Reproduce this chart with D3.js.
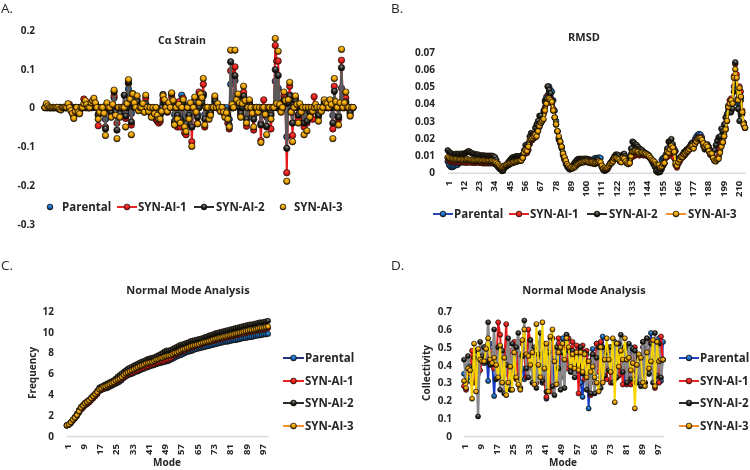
<!DOCTYPE html>
<html>
<head>
<meta charset="utf-8">
<script src="https://cdnjs.cloudflare.com/ajax/libs/d3/7.8.5/d3.min.js"></script>
<style>
  html, body { margin: 0; background: #fff; }
  svg { display: block; font-family: "Open Sans", sans-serif; filter: blur(0.4px); }
  text { fill: #262626; }
</style>
</head>
<body>
<script>
var seriesNames = ["Parental", "SYN-AI-1", "SYN-AI-2", "SYN-AI-3"];

// A. C-alpha strain, residues 1-215
var strainParental = [
0,0,0,0,0,0,0,0,0,0,0,0,0,0,0,0,0,0,0,0,
-.01,0,0,0,0,0,0,0,0,0,0,0,0,0,.008,.01,0,-.017,0,0,
0,0,-.03,0,0,0,-.008,0,.025,-.008,-.02,0,-.01,0,0,0,-.012,0,.048,.008,
-.015,.018,.012,0,.012,0,0,0,0,0,.008,0,0,0,-.012,0,0,0,-.01,-.012,
-.012,0,.012,.008,0,0,0,0,.01,0,-.018,0,-.012,0,-.014,.032,.008,-.025,-.038,0,
-.012,0,-.05,0,.014,0,-.018,0,.026,.03,.03,-.018,0,0,-.014,-.008,0,0,.012,0,
0,0,0,0,0,-.01,0,-.012,-.03,.06,0,0,.07,.018,.012,0,-.01,0,.028,.008,
-.025,0,.008,0,0,-.02,0,0,0,0,-.04,0,0,-.008,-.025,0,0,-.015,0,0,
.068,0,.05,0,0,.012,.018,.022,-.075,.014,.033,0,-.04,0,.015,0,-.018,0,0,0,
-.03,0,-.03,0,-.008,0,0,0,0,0,-.014,0,0,0,0,0,0,0,.008,0,
-.02,.018,0,0,-.022,0,.05,0,0,.012,0,0,-.008,0,0];
var strainAI1 = [
0,.006,0,0,0,0,0,0,0,0,0,0,0,0,0,0,.006,.008,0,-.012,
-.024,-.008,0,-.01,-.014,0,0,.022,.014,0,0,0,.008,.012,.016,.008,0,-.047,0,0,
0,-.01,-.05,.008,0,0,-.018,0,.03,-.014,-.04,0,-.02,0,0,0,-.028,0,.062,.015,
-.045,.025,.008,0,.02,0,0,0,0,-.01,.024,0,0,0,-.02,0,-.012,-.03,-.035,-.04,
-.036,-.012,.02,.012,0,-.012,.008,0,.028,.015,-.04,0,-.05,.015,-.05,.01,.024,-.065,-.07,0,
-.02,.008,-.088,0,.018,-.01,-.04,.04,.025,.018,.06,-.05,0,0,-.022,-.014,0,0,.024,0,
0,0,-.008,0,-.01,-.02,-.012,-.04,-.055,.095,0,0,.105,.014,.028,.008,-.02,0,.04,.014,
-.048,0,.014,0,-.012,-.058,0,0,-.01,0,-.085,0,.02,-.014,-.05,0,0,-.055,0,0,
.16,.12,.12,0,-.01,0,.03,.012,-.168,.014,.055,-.01,-.072,0,.022,0,-.03,.008,-.01,0,
-.05,0,-.04,0,-.018,0,-.03,.028,0,0,-.025,0,-.008,0,.014,.009,0,0,.014,0,
-.055,.055,.01,0,-.03,.009,.122,0,.008,.025,0,0,-.018,0,0];
var strainAI2 = [
0,0,0,0,0,0,0,0,0,0,0,0,0,0,0,0,.005,0,0,-.008,
-.018,0,0,0,-.01,0,0,0,.01,0,0,0,0,.008,.012,0,0,-.02,0,0,
0,-.01,-.055,0,0,0,-.012,0,.04,-.012,-.058,0,-.016,0,0,.032,-.022,0,.065,.012,
-.037,.036,0,0,.016,0,0,0,0,-.01,.01,0,0,0,-.02,0,-.01,0,-.014,-.02,
-.02,0,.034,.012,0,0,0,0,.036,.01,-.035,0,-.02,0,-.03,0,.012,-.04,-.042,0,
-.02,0,-.05,0,.014,0,-.025,0,.025,.012,.035,-.03,0,0,-.018,-.012,0,0,.018,0,
0,0,0,0,-.008,-.015,-.008,-.02,-.045,.118,0,0,.082,.012,.025,0,-.015,0,.03,.01,
-.03,0,.012,0,-.008,-.03,0,0,-.008,0,-.045,0,0,-.01,-.048,0,0,-.02,0,0,
.098,0,.083,0,-.008,0,.02,.01,-.105,.012,.03,-.008,-.04,0,.018,0,-.02,0,-.008,0,
-.04,0,-.035,0,-.012,0,0,0,0,0,-.02,0,0,0,.01,.008,0,0,.012,0,
-.04,.042,.008,0,-.025,0,.103,0,0,.015,0,0,-.012,0,0];
var strainAI3 = [
0,.01,.004,0,0,0,0,0,0,0,-.004,-.006,0,0,0,0,.01,0,-.008,-.015,
-.028,-.01,0,-.012,-.016,0,0,.01,.018,.008,0,0,.012,.018,.024,.012,0,-.03,-.012,0,
0,-.015,-.072,.012,0,0,-.025,.008,.045,-.02,-.08,0,-.025,0,0,0,-.05,.01,.072,.022,
-.07,.035,.012,0,.03,-.008,0,0,.01,-.012,.032,0,-.01,0,-.025,0,-.016,0,-.02,-.03,
-.03,-.01,.03,.02,0,-.01,.012,0,.038,.018,-.045,0,-.03,.008,-.04,0,.02,-.05,-.062,0,
-.03,.012,-.1,0,.027,-.012,-.042,.012,.035,.025,.075,-.045,0,0,-.03,-.02,0,0,.03,0,
.01,0,-.01,0,-.012,-.025,-.014,-.03,-.05,.148,.008,0,.148,.02,.035,.012,-.025,.01,.055,.018,
-.04,0,.02,0,-.015,-.05,0,0,-.012,0,-.09,0,0,-.018,-.07,0,0,-.03,0,0,
.178,.01,.145,.008,-.012,0,.04,.018,-.19,.02,.065,-.012,-.088,0,.03,.008,-.04,.01,-.012,0,
-.07,0,-.06,0,-.025,0,-.01,0,.008,0,-.035,0,-.01,0,.02,.012,.01,0,.02,.008,
-.08,.075,.015,0,-.045,.012,.15,0,.012,.04,0,0,-.022,0,0];
var strainTicks = [-0.3, -0.2, -0.1, 0, 0.1, 0.2];

// B. RMSD, residues 1-215
var rmsdParental = [
.0065,.0045,.0035,.0032,.0035,.004,.005,.0045,.0055,.0065,
.007,.007,.0072,.0072,.0075,.0072,.007,.0065,.0065,.0065,
.0065,.0065,.0065,.0062,.006,.0055,.0055,.0055,.0055,.0055,
.0055,.0055,.0055,.0055,.005,.0045,.0035,.0025,.002,.0018,
.002,.003,.0035,.004,.0045,.005,.0055,.006,.006,.0065,
.007,.0075,.0075,.008,.0085,.011,.0115,.0115,.013,.0165,
.0185,.019,.02,.0205,.0225,.0245,.0265,.0285,.03,.034,
.042,.044,.05,.05,.048,.047,.042,.036,.03,.024,
.019,.017,.014,.01,.0075,.005,.0035,.0025,.002,.0025,
.0035,.0045,.0055,.006,.0065,.007,.0072,.0075,.0078,.008,
.008,.0078,.0075,.0075,.0075,.0075,.0085,.0085,.0085,.0088,
.0085,.004,.0025,.002,.002,.0025,.004,.0055,.0065,.0075,
.0085,.0095,.0095,.0095,.0085,.0075,.0095,.0095,.0085,.0075,
.0065,.007,.011,.0135,.0135,.0135,.0135,.0135,.0125,.0125,
.0125,.012,.0115,.011,.0105,.01,.0085,.0075,.0065,.0055,
.0045,.0035,.0035,.0035,.0075,.0085,.0085,.0105,.0125,.012,
.015,.017,.015,.0115,.007,.0045,.0065,.0075,.0085,.0095,
.0105,.0115,.0125,.0135,.0145,.016,.0175,.0165,.0195,.021,
.022,.0225,.022,.0205,.0175,.0145,.0155,.0155,.0125,.0105,
.0105,.0085,.0075,.007,.008,.009,.0125,.0155,.0175,.021,
.025,.03,.036,.039,.041,.04,.05,.056,.05,.04,
.046,.044,.035,.028,.026];
var rmsdAI1 = [
.0085,.007,.0065,.0065,.0065,.006,.0062,.006,.006,.006,
.006,.006,.006,.0058,.006,.006,.006,.006,.0058,.0058,
.0058,.006,.006,.0058,.0058,.0058,.0058,.0058,.0058,.0058,
.006,.006,.006,.0058,.0055,.005,.0045,.004,.003,.0028,
.003,.0038,.0045,.005,.005,.0055,.006,.0062,.0065,.0068,
.007,.0072,.007,.0072,.0085,.0105,.012,.0115,.0135,.017,
.0185,.0195,.02,.021,.023,.025,.028,.03,.03,.034,
.038,.042,.045,.044,.043,.04,.037,.032,.028,.024,
.02,.018,.015,.011,.008,.0065,.0045,.003,.002,.0025,
.003,.0035,.0045,.005,.0055,.006,.006,.0062,.0065,.0065,
.0062,.006,.0058,.0055,.0058,.0052,.005,.0055,.006,.0055,
.005,.003,.002,.002,.002,.003,.004,.0055,.0065,.007,
.008,.0085,.0085,.008,.0065,.0065,.009,.0085,.007,.0055,
.005,.0058,.0085,.0105,.0095,.0105,.0105,.011,.01,.0105,
.0105,.01,.0105,.01,.0095,.009,.008,.0072,.0065,.0055,
.0045,.0035,.0035,.0025,.003,.0045,.0055,.0085,.0105,.0095,
.011,.013,.012,.0085,.0045,.003,.005,.0065,.008,.009,
.0095,.0105,.0115,.0125,.0135,.015,.0155,.0145,.017,.019,
.02,.0205,.0205,.0195,.017,.0145,.0155,.015,.0125,.0105,
.0105,.0085,.007,.007,.0085,.01,.014,.0165,.018,.022,
.026,.03,.039,.042,.043,.041,.056,.063,.057,.043,
.05,.047,.036,.029,.026];
var rmsdAI2 = [
.013,.012,.0115,.011,.0105,.0105,.011,.0105,.011,.0105,
.011,.011,.011,.0115,.012,.0125,.012,.0115,.011,.011,
.0105,.0105,.0105,.01,.01,.01,.01,.0098,.0098,.0098,
.0098,.0098,.0098,.0095,.009,.0075,.0055,.0035,.002,.001,
.0012,.003,.004,.0055,.0065,.0075,.0085,.009,.009,.0095,
.0095,.0095,.0095,.0095,.0105,.013,.016,.015,.017,.021,
.023,.0225,.022,.026,.028,.03,.033,.033,.031,.036,
.041,.042,.05,.048,.046,.042,.036,.032,.028,.024,
.02,.018,.015,.0115,.009,.0065,.0045,.003,.002,.0025,
.004,.0055,.0065,.0075,.008,.008,.008,.008,.008,.008,
.008,.0075,.007,.007,.007,.0065,.006,.0065,.0075,.0065,
.0055,.0035,.0015,.001,.0015,.002,.0035,.005,.0065,.008,
.0095,.0105,.0105,.01,.009,.008,.0105,.011,.0095,.0085,
.0075,.0085,.014,.018,.0175,.0165,.016,.015,.014,.0135,
.013,.012,.0115,.011,.0105,.0095,.0085,.0065,.005,.0035,
.001,.0002,.0002,.0005,.002,.004,.0055,.0095,.014,.018,
.018,.0195,.0165,.014,.0125,.008,.0075,.0085,.0095,.0105,
.012,.0125,.0135,.014,.015,.0165,.017,.0155,.0175,.0185,
.02,.02,.0195,.018,.0155,.0135,.0155,.0165,.015,.013,
.0125,.0125,.013,.016,.0185,.0205,.021,.0255,.024,.028,
.032,.034,.038,.039,.035,.037,.047,.064,.048,.037,
.03,.042,.034,.029,.026];
var rmsdAI3 = [
.009,.0085,.008,.0078,.0078,.0075,.0078,.0075,.0075,.0075,
.0075,.0072,.0075,.0075,.0078,.0075,.0075,.0072,.0072,.007,
.007,.007,.0072,.007,.0068,.007,.007,.0068,.0068,.0068,
.0068,.0068,.0068,.0065,.0062,.0058,.005,.0042,.0035,.003,
.0035,.0042,.0045,.005,.0052,.0055,.0055,.006,.006,.0062,
.0065,.0068,.0068,.007,.0085,.0115,.013,.0125,.015,.019,
.0195,.02,.021,.022,.021,.024,.027,.029,.03,.031,
.036,.04,.043,.043,.042,.041,.036,.032,.028,.024,
.021,.018,.015,.011,.009,.007,.005,.004,.003,.003,
.0025,.003,.0035,.0045,.005,.0055,.0058,.006,.006,.0065,
.0065,.0062,.006,.0058,.006,.0055,.0055,.0058,.006,.0065,
.006,.004,.0025,.003,.0025,.003,.004,.005,.0055,.0065,
.008,.0085,.008,.0075,.0065,.006,.0085,.008,.0065,.0055,
.005,.0055,.0095,.012,.012,.0125,.012,.012,.011,.0115,
.0115,.011,.011,.0105,.01,.0095,.0085,.0075,.007,.0062,
.005,.0045,.0045,.003,.0035,.005,.0055,.009,.012,.0115,
.0135,.0155,.0145,.012,.0055,.004,.006,.0075,.009,.009,
.0105,.011,.012,.0125,.0135,.015,.0155,.014,.0165,.018,
.0195,.02,.02,.019,.017,.015,.016,.015,.0125,.011,
.011,.0085,.007,.0065,.0075,.008,.0115,.015,.0175,.021,
.025,.03,.038,.04,.042,.04,.055,.06,.055,.042,
.049,.044,.035,.028,.026];
var rmsdTicks = [0, 0.01, 0.02, 0.03, 0.04, 0.05, 0.06, 0.07];
var residueLabels = [1, 12, 23, 34, 45, 56, 67, 78, 89, 100, 111, 122, 133, 144, 155, 166, 177, 188, 199, 210];

// C. Normal mode frequency, modes 1-100
var freqParental = [
1,1.05,1.2,1.45,1.65,1.9,2.2,2.5,2.7,2.9,
3.05,3.2,3.4,3.6,3.8,4,4.3,4.4,4.5,4.55,
4.6,4.7,4.8,4.9,5,5.1,5.2,5.35,5.55,5.7,
5.8,5.9,5.95,6.05,6.15,6.2,6.3,6.4,6.45,6.55,
6.6,6.7,6.75,6.8,6.9,6.95,7,7.05,7.1,7.15,
7.2,7.3,7.4,7.5,7.6,7.7,7.75,7.85,7.95,8.05,
8.1,8.15,8.2,8.3,8.35,8.4,8.45,8.5,8.55,8.6,
8.65,8.7,8.75,8.8,8.85,8.9,8.95,9,9.05,9.05,
9.1,9.15,9.2,9.2,9.25,9.3,9.35,9.4,9.4,9.45,
9.5,9.5,9.55,9.6,9.65,9.65,9.7,9.75,9.75,9.8];
var freqAI1 = [
1,1.1,1.25,1.5,1.7,1.95,2.25,2.55,2.75,2.95,
3.1,3.25,3.45,3.65,3.85,4.05,4.35,4.45,4.55,4.65,
4.75,4.85,4.95,5.05,5.15,5.25,5.35,5.5,5.65,5.8,
5.9,6,6.05,6.15,6.25,6.3,6.4,6.5,6.55,6.65,
6.7,6.8,6.85,6.9,7,7.05,7.1,7.15,7.2,7.3,
7.35,7.45,7.6,7.75,7.85,7.95,8.05,8.15,8.2,8.3,
8.35,8.45,8.5,8.6,8.65,8.7,8.75,8.85,8.9,8.95,
9,9.05,9.1,9.15,9.2,9.25,9.3,9.35,9.4,9.45,
9.5,9.55,9.6,9.65,9.7,9.75,9.8,9.85,9.9,9.95,
10,10.05,10.1,10.1,10.15,10.2,10.2,10.25,10.3,10.35];
var freqAI2 = [
1.05,1.15,1.35,1.6,1.85,2.15,2.5,2.8,3,3.2,
3.35,3.5,3.7,3.9,4.1,4.35,4.65,4.75,4.85,4.95,
5.05,5.15,5.25,5.35,5.5,5.7,5.85,6,6.15,6.3,
6.45,6.55,6.65,6.75,6.85,6.95,7.05,7.15,7.2,7.3,
7.4,7.45,7.5,7.55,7.65,7.75,7.85,7.95,8.1,8.2,
8.2,8.25,8.35,8.45,8.55,8.65,8.75,8.8,8.85,8.95,
9,9.1,9.15,9.2,9.25,9.3,9.35,9.4,9.5,9.55,
9.65,9.7,9.75,9.85,9.9,9.95,10,10.05,10.1,10.15,
10.2,10.25,10.3,10.35,10.4,10.45,10.5,10.55,10.6,10.65,
10.7,10.7,10.75,10.8,10.85,10.9,10.9,10.95,11,11.05];
var freqAI3 = [
1,1.1,1.3,1.55,1.75,2,2.35,2.7,2.9,3.1,
3.25,3.4,3.6,3.8,4,4.2,4.45,4.55,4.7,4.75,
4.85,4.95,5.05,5.15,5.3,5.4,5.5,5.65,5.85,6,
6.1,6.2,6.3,6.4,6.5,6.6,6.7,6.75,6.85,6.95,
7,7.05,7.1,7.2,7.3,7.35,7.45,7.5,7.6,7.65,
7.7,7.75,7.85,7.95,8,8.1,8.2,8.3,8.35,8.45,
8.5,8.6,8.65,8.7,8.75,8.8,8.9,8.95,9,9.05,
9.1,9.15,9.25,9.3,9.35,9.4,9.45,9.5,9.55,9.6,
9.65,9.7,9.75,9.8,9.85,9.9,9.95,10,10.05,10.1,
10.15,10.15,10.2,10.25,10.3,10.35,10.35,10.4,10.45,10.5];
var freqTicks = [0, 2, 4, 6, 8, 10, 12];
var modeLabels = [1, 9, 17, 25, 33, 41, 49, 57, 65, 73, 81, 89, 97];

// D. Collectivity, modes 1-100
var collParental = [
.35,.3,.4,.33,.42,.36,.44,.35,.45,.46,
.41,.5,.31,.52,.42,.225,.45,.38,.5,.33,
.46,.35,.52,.33,.45,.4,.52,.36,.46,.38,
.32,.5,.42,.52,.4,.46,.34,.52,.45,.3,
.47,.21,.36,.5,.28,.42,.42,.52,.33,.55,
.5,.57,.42,.46,.36,.42,.34,.5,.3,.22,
.38,.46,.155,.42,.49,.3,.52,.4,.33,.56,
.37,.48,.4,.5,.32,.48,.42,.5,.35,.45,
.3,.5,.34,.5,.3,.46,.33,.42,.36,.5,
.3,.55,.35,.58,.38,.46,.31,.55,.31,.53];
var collAI1 = [
.28,.26,.38,.35,.48,.3,.47,.4,.37,.42,
.5,.45,.52,.44,.48,.38,.4,.64,.57,.34,
.42,.63,.3,.48,.37,.53,.32,.46,.27,.52,
.45,.33,.6,.54,.38,.46,.3,.5,.45,.33,
.3,.22,.5,.25,.55,.44,.3,.55,.48,.35,
.5,.38,.55,.42,.53,.38,.51,.24,.5,.51,
.32,.48,.35,.23,.45,.3,.52,.36,.53,.33,
.46,.32,.5,.3,.48,.32,.52,.34,.47,.29,
.5,.29,.46,.29,.3,.5,.36,.45,.34,.53,
.3,.48,.4,.53,.38,.27,.48,.3,.56,.43];
var collAI2 = [
.43,.31,.45,.39,.3,.44,.48,.11,.53,.45,
.5,.42,.64,.4,.43,.6,.32,.5,.26,.48,
.24,.4,.55,.26,.52,.33,.5,.58,.27,.45,
.65,.38,.33,.54,.3,.5,.27,.46,.58,.31,
.52,.25,.47,.55,.28,.23,.5,.38,.26,.47,
.27,.57,.48,.36,.48,.33,.46,.4,.5,.35,
.47,.26,.42,.24,.46,.24,.44,.5,.27,.5,
.34,.47,.37,.5,.3,.53,.33,.52,.57,.36,
.5,.3,.52,.32,.49,.48,.3,.44,.28,.53,
.3,.55,.35,.52,.3,.58,.34,.52,.33,.43];
var collAI3 = [
.31,.27,.38,.37,.21,.52,.25,.49,.43,.42,
.42,.49,.55,.43,.41,.44,.4,.33,.51,.3,
.44,.23,.3,.39,.26,.47,.33,.29,.26,.54,
.6,.46,.45,.4,.47,.29,.63,.4,.33,.64,
.38,.52,.25,.56,.6,.42,.29,.47,.5,.52,
.43,.55,.5,.39,.46,.38,.47,.37,.47,.36,
.46,.33,.42,.36,.39,.33,.3,.25,.5,.3,
.43,.55,.43,.36,.55,.19,.52,.39,.48,.43,
.55,.43,.44,.37,.41,.155,.4,.46,.44,.3,
.28,.47,.38,.42,.54,.28,.53,.42,.43,.43];
var collTicks = [0, 0.1, 0.2, 0.3, 0.4, 0.5, 0.6, 0.7];

var svg = d3.select("body").append("svg")
  .attr("width", 750).attr("height", 470);

// shiny ball markers
var defs = svg.append("defs");
var ballColors = [
  ["ballBlue", "#3f9fe8", "#1160b8", "#041a3a"],
  ["ballRed", "#ff4a3a", "#e3181c", "#8c0a0e"],
  ["ballBlack", "#8f8f8f", "#1c1c1c", "#000000"],
  ["ballOrange", "#ffcd35", "#e09400", "#201400"]
];
ballColors.forEach(function(c) {
  var g = defs.append("radialGradient").attr("id", c[0])
    .attr("cx", "50%").attr("cy", "40%").attr("r", "60%")
    .attr("fx", "50%").attr("fy", "28%");
  g.append("stop").attr("offset", "0%").attr("stop-color", c[1]);
  g.append("stop").attr("offset", "58%").attr("stop-color", c[2]);
  g.append("stop").attr("offset", "100%").attr("stop-color", c[3]);
});
var balls = ["url(#ballBlue)", "url(#ballRed)", "url(#ballBlack)", "url(#ballOrange)"];

function drawPanel(p) {
  var x = d3.scaleLinear().domain([1, p.series[0].length]).range(p.xRange);
  var y = d3.scaleLinear().domain(p.yDomain).range(p.yRange);

  // letter and title
  svg.append("text").attr("x", p.letter[1]).attr("y", p.letter[2])
    .style("font-size", "13.5px").text(p.letter[0]);
  svg.append("text").attr("x", p.title[1]).attr("y", p.title[2])
    .attr("text-anchor", "middle").style("font-weight", 700)
    .style("font-size", p.title[3] + "px").text(p.title[0]);

  // y axis, labels only
  var yAxis = svg.append("g").attr("transform", "translate(" + p.yLabelX + ",0)")
    .call(d3.axisLeft(y).tickValues(p.yTicks).tickSize(0).tickPadding(0).tickFormat(String));
  yAxis.select(".domain").remove();
  yAxis.selectAll("text").style("font-size", "10px").style("font-weight", 700)
    .style("font-family", "'Open Sans', sans-serif");

  // x axis
  if (p.xLabels) {
    var xAxis = svg.append("g").attr("transform", "translate(0," + p.yRange[0] + ")")
      .call(d3.axisBottom(x).tickValues(p.xLabels).tickSize(0).tickFormat(String));
    xAxis.select(".domain").attr("stroke", "#d9d9d9").attr("stroke-width", 1.6);
    xAxis.selectAll("text").attr("transform", "rotate(-90)")
      .attr("text-anchor", "end").attr("x", -8).attr("y", 0).attr("dy", "0.36em")
      .style("font-size", "9.5px").style("font-weight", 700)
      .style("font-family", "'Open Sans', sans-serif");
  }
  if (p.xName) {
    svg.append("text").attr("x", p.xName[1]).attr("y", p.xName[2])
      .attr("text-anchor", "middle").style("font-weight", 700).style("font-size", "10px")
      .text(p.xName[0]);
  }
  if (p.yName) {
    svg.append("text")
      .attr("transform", "translate(" + p.yName[1] + "," + p.yName[2] + ") rotate(-90)")
      .attr("text-anchor", "middle").style("font-weight", 700).style("font-size", "10px")
      .text(p.yName[0]);
  }

  // series, parental at the bottom
  var line = d3.line().x(function(d, i) { return x(i + 1); }).y(function(d) { return y(d); });
  p.series.forEach(function(values, s) {
    if (p.lines[s]) {
      svg.append("path").datum(values).attr("d", line)
        .attr("fill", "none").attr("stroke", p.lines[s]).attr("stroke-width", p.lineWidths[s]);
    }
    svg.append("g").selectAll("circle").data(values).enter().append("circle")
      .attr("cx", function(d, i) { return x(i + 1); })
      .attr("cy", function(d) { return y(d); })
      .attr("r", p.r)
      .attr("fill", balls[s])
      .attr("stroke", "#1a1205").attr("stroke-width", 0.7);
  });

  // legend
  seriesNames.forEach(function(name, s) {
    var l = p.legend[s];
    var g = svg.append("g");
    if (p.legendLines[s]) {
      g.append("line").attr("x1", l[0]).attr("x2", l[1]).attr("y1", l[3]).attr("y2", l[3])
        .attr("stroke", p.legendLines[s]).attr("stroke-width", 1.9);
    }
    g.append("circle").attr("cx", (l[0] + l[1]) / 2).attr("cy", l[3]).attr("r", 2.9)
      .attr("fill", balls[s]).attr("stroke", "#1a1205").attr("stroke-width", 0.7);
    g.append("text").attr("x", l[2]).attr("y", l[3]).attr("dy", "0.36em")
      .style("font-weight", 700).style("font-size", p.legendSize + "px").text(name);
  });
}

drawPanel({
  letter: ["A.", 1, 13],
  title: ["C\u03b1 Strain", 182, 44, 10.5],
  series: [strainParental, strainAI1, strainAI2, strainAI3],
  xRange: [45, 353], yDomain: [-0.3, 0.2], yRange: [224, 30],
  yTicks: strainTicks, yLabelX: 35,
  lines: [null, "#e8191c", "#5a5a5a", null], lineWidths: [0, 2, 2.2, 0], r: 3.2,
  legend: [[44, 56, 62, 207], [117, 137, 138, 207], [194, 214, 216, 207], [277, 289, 294, 207]],
  legendLines: [null, "#e8191c", "#222", null], legendSize: 11.5
});
drawPanel({
  letter: ["B.", 391, 13],
  title: ["RMSD", 584, 41, 11],
  series: [rmsdParental, rmsdAI1, rmsdAI2, rmsdAI3],
  xRange: [447.7, 745], yDomain: [0, 0.07], yRange: [172.7, 52],
  yTicks: rmsdTicks, yLabelX: 435, xLabels: residueLabels,
  lines: ["#1f3fb0", "#e8191c", "#222", "#f5c800"], lineWidths: [2, 2, 2, 2], r: 2.8,
  legend: [[433, 453, 454, 214], [509, 529, 530, 214], [587, 607, 609, 214], [666, 686, 688, 214]],
  legendLines: ["#1f3fb0", "#e8191c", "#222", "#f28c1e"], legendSize: 11.5
});
drawPanel({
  letter: ["C.", 1, 270],
  title: ["Normal Mode Analysis", 188, 294, 11],
  series: [freqParental, freqAI1, freqAI2, freqAI3],
  xRange: [66.7, 268], yDomain: [0, 12], yRange: [436, 311],
  yTicks: freqTicks, yLabelX: 54, xLabels: modeLabels,
  xName: ["Mode", 167, 466], yName: ["Frequency", 36, 373],
  lines: ["#1b2a7a", "#e8191c", "#222", "#f5c800"], lineWidths: [1.6, 1.6, 1.6, 1.6], r: 2.6,
  legend: [[283, 304, 305, 358], [283, 304, 305, 381], [283, 304, 305, 403], [283, 304, 305, 426]],
  legendLines: ["#1b2a7a", "#e8191c", "#222", "#f28c1e"], legendSize: 11.5
});
drawPanel({
  letter: ["D.", 391, 270],
  title: ["Normal Mode Analysis", 584, 294, 11],
  series: [collParental, collAI1, collAI2, collAI3],
  xRange: [464, 663], yDomain: [0, 0.7], yRange: [436, 311.7],
  yTicks: collTicks, yLabelX: 452, xLabels: modeLabels,
  xName: ["Mode", 563, 466], yName: ["Collectivity", 430, 373],
  lines: ["#1539c4", "#e8191c", "#8a8a8a", "#f8d400"], lineWidths: [2, 2, 2.4, 1.8], r: 2.5,
  legend: [[679, 699, 700, 358], [679, 699, 700, 381], [679, 699, 700, 403], [679, 699, 700, 426]],
  legendLines: ["#1539c4", "#e8191c", "#222", "#f28c1e"], legendSize: 11.5
});
</script>
</body>
</html>
